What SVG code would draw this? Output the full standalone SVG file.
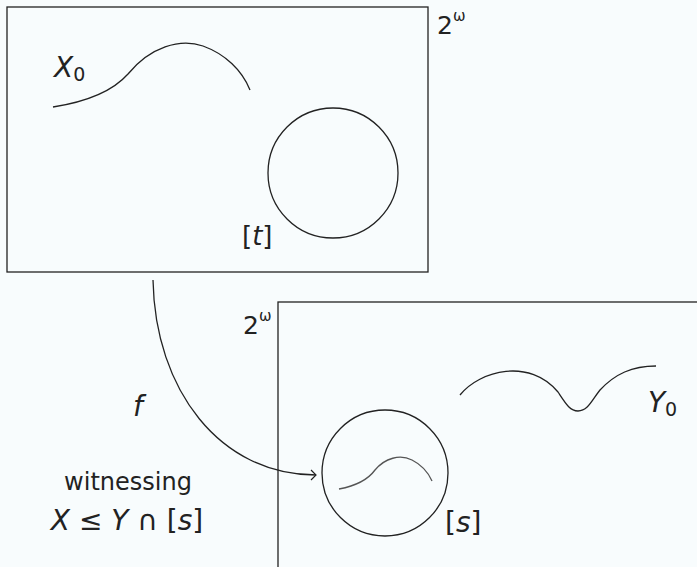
<svg xmlns="http://www.w3.org/2000/svg" width="697" height="567" viewBox="0 0 697 567">
  <defs>
    <style>
      .box { fill: none; stroke: #222; stroke-width: 1.3; }
      .ln { fill: none; stroke: #222; stroke-width: 1.3; }
      .inner { fill: none; stroke: #555; stroke-width: 1.3; }
      .t { font-family: "DejaVu Sans", "Liberation Sans", sans-serif; fill: #222; }
      .it { font-style: italic; }
    </style>
    <marker id="arr" markerWidth="12" markerHeight="12" refX="0" refY="0" viewBox="-7 -6 9 12" orient="auto" markerUnits="userSpaceOnUse">
      <path d="M-5,-5 Q-1.5,-1.5 0,0 Q-1.5,1.5 -5,5" fill="none" stroke="#222" stroke-width="1.2"/>
    </marker>
  </defs>
  <rect x="0" y="0" width="697" height="567" fill="#f8fcfd"/>

  <g id="box-top">
    <rect class="box" x="7" y="7" width="421" height="265"/>
    <text class="t" x="437" y="34" font-size="25">2<tspan font-size="15" dy="-13">ω</tspan></text>
  </g>
  <g id="set-X0">
    <path class="ln" d="M53,107 C85,102 112,92 128,74 C150,47 180,38 203,46 C225,54 242,70 250,90"/>
    <text class="t" x="54" y="77" font-size="28"><tspan class="it">X</tspan><tspan font-size="19" dy="4">0</tspan></text>
  </g>
  <g id="circle-t">
    <circle class="ln" cx="333" cy="173" r="65"/>
    <text class="t" x="242" y="245" font-size="26">[<tspan class="it">t</tspan>]</text>
  </g>

  <g id="box-bottom">
    <rect class="box" x="278" y="302" width="440" height="290"/>
    <text class="t" x="243" y="334" font-size="25">2<tspan font-size="15" dy="-13">ω</tspan></text>
  </g>
  <g id="set-Y0">
    <path class="ln" d="M460,395 C480,370 530,358 558,392 C566,404 570,411 578,411 C588,411 592,400 600,390 C615,374 632,366 656,366"/>
    <text class="t" x="648" y="412" font-size="28"><tspan class="it">Y</tspan><tspan font-size="19" dy="4">0</tspan></text>
  </g>
  <g id="circle-s">
    <circle class="ln" cx="385" cy="473" r="63"/>
    <path class="inner" d="M339,489 C355,486 367,481 375,470 C385,458 400,454 412,460 C422,465 428,472 432,481"/>
    <text class="t" x="445" y="532" font-size="28">[<tspan class="it">s</tspan>]</text>
  </g>

  <g id="connectors">
    <path class="ln" d="M153,280 C155,390 220,475 316,475" marker-end="url(#arr)"/>
    <text class="t it" x="133" y="416" font-size="28">f</text>
  </g>

  <g id="caption">
    <text class="t" x="128" y="490" font-size="24" text-anchor="middle">witnessing</text>
    <text class="t" x="127" y="530" font-size="28" text-anchor="middle"><tspan class="it">X</tspan> ≤ <tspan class="it">Y</tspan> ∩ [<tspan class="it">s</tspan>]</text>
  </g>
</svg>
